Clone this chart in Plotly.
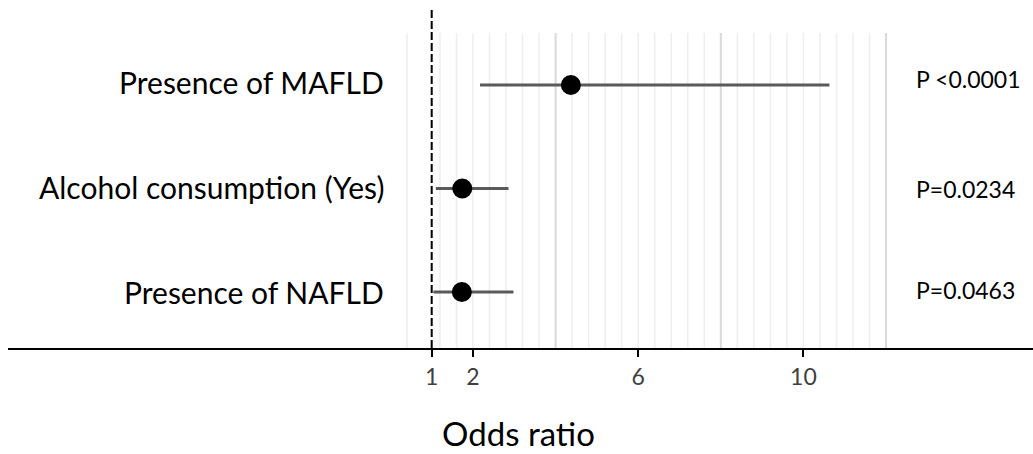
import plotly.graph_objects as go

# ---- data ----
factors = ["Presence of MAFLD", "Alcohol consumption (Yes)", "Presence of NAFLD"]
odds_ratio = [4.37, 1.74, 1.73]
ci_lower = [2.17, 1.10, 1.04]
ci_upper = [10.63, 2.86, 2.98]
p_values = ["P <0.0001", "P=0.0234", "P=0.0463"]
row_pos = [3, 2, 1]
p_label_pos = [3.06, 2.0, 1.02]
label_pos = [3.03, 2.01, 1.0]
x_ticks = [1, 2, 6, 10]
minor_grid = [round(0.4 * k, 1) for k in range(1, 31) if k not in (2, 10, 20, 30)]
major_grid = [4, 8, 12]

FONT = "Lato"
Y_LO, Y_HI = 0.459, 3.754
GRID_TOP = 3.502

fig = go.Figure()

shapes = []
for gx in minor_grid:
    shapes.append(dict(type="line", xref="x", yref="y", x0=gx, x1=gx, y0=Y_LO, y1=GRID_TOP,
                       line=dict(color="#eeeeee", width=1.5), layer="below"))
for gx in major_grid:
    shapes.append(dict(type="line", xref="x", yref="y", x0=gx, x1=gx, y0=Y_LO, y1=GRID_TOP,
                       line=dict(color="#d9d9d9", width=2), layer="below"))
# reference line at OR = 1
shapes.append(dict(type="line", xref="x", yref="paper", x0=1, x1=1, y0=0, y1=1,
                   line=dict(color="black", width=2, dash="8px,3px")))

fig.add_trace(go.Scatter(
    x=odds_ratio, y=row_pos, mode="markers",
    marker=dict(color="black", size=20),
    error_x=dict(type="data", symmetric=False,
                 array=[u - o for u, o in zip(ci_upper, odds_ratio)],
                 arrayminus=[o - l for o, l in zip(odds_ratio, ci_lower)],
                 width=0, thickness=3, color="#5a5a5a"),
    showlegend=False, hoverinfo="skip"))

annotations = []
for name, y in zip(factors, label_pos):
    annotations.append(dict(text=name, xref="paper", yref="y", x=(386 - 8) / 1025, y=y,
                            xanchor="right", yanchor="middle", showarrow=False,
                            font=dict(family=FONT, size=30, color="black")))
for p, y in zip(p_values, p_label_pos):
    annotations.append(dict(text=p, xref="paper", yref="y", x=(914 - 8) / 1025, y=y,
                            xanchor="left", yanchor="middle", showarrow=False,
                            font=dict(family=FONT, size=23, color="black")))
annotations.append(dict(text="Odds ratio", xref="paper", yref="paper", x=(518 - 8) / 1025, y=-0.25,
                        xanchor="center", yanchor="middle", showarrow=False,
                        font=dict(family=FONT, size=33, color="black")))

fig.update_layout(
    width=1033, height=454,
    margin=dict(l=8, r=0, t=7, b=106),
    plot_bgcolor="white", paper_bgcolor="white",
    shapes=shapes, annotations=annotations,
    xaxis=dict(range=[-9.259, 15.559], tickvals=x_ticks, ticktext=[str(t) for t in x_ticks],
               showgrid=False, zeroline=False, showline=True, linecolor="black", linewidth=2,
               ticks="outside", ticklen=7, tickwidth=2, tickcolor="black",
               tickfont=dict(family=FONT, size=23, color="#404040")),
    yaxis=dict(range=[Y_LO, Y_HI], showgrid=False, zeroline=False, showticklabels=False,
               showline=False),
)

fig.write_html("out.html")
